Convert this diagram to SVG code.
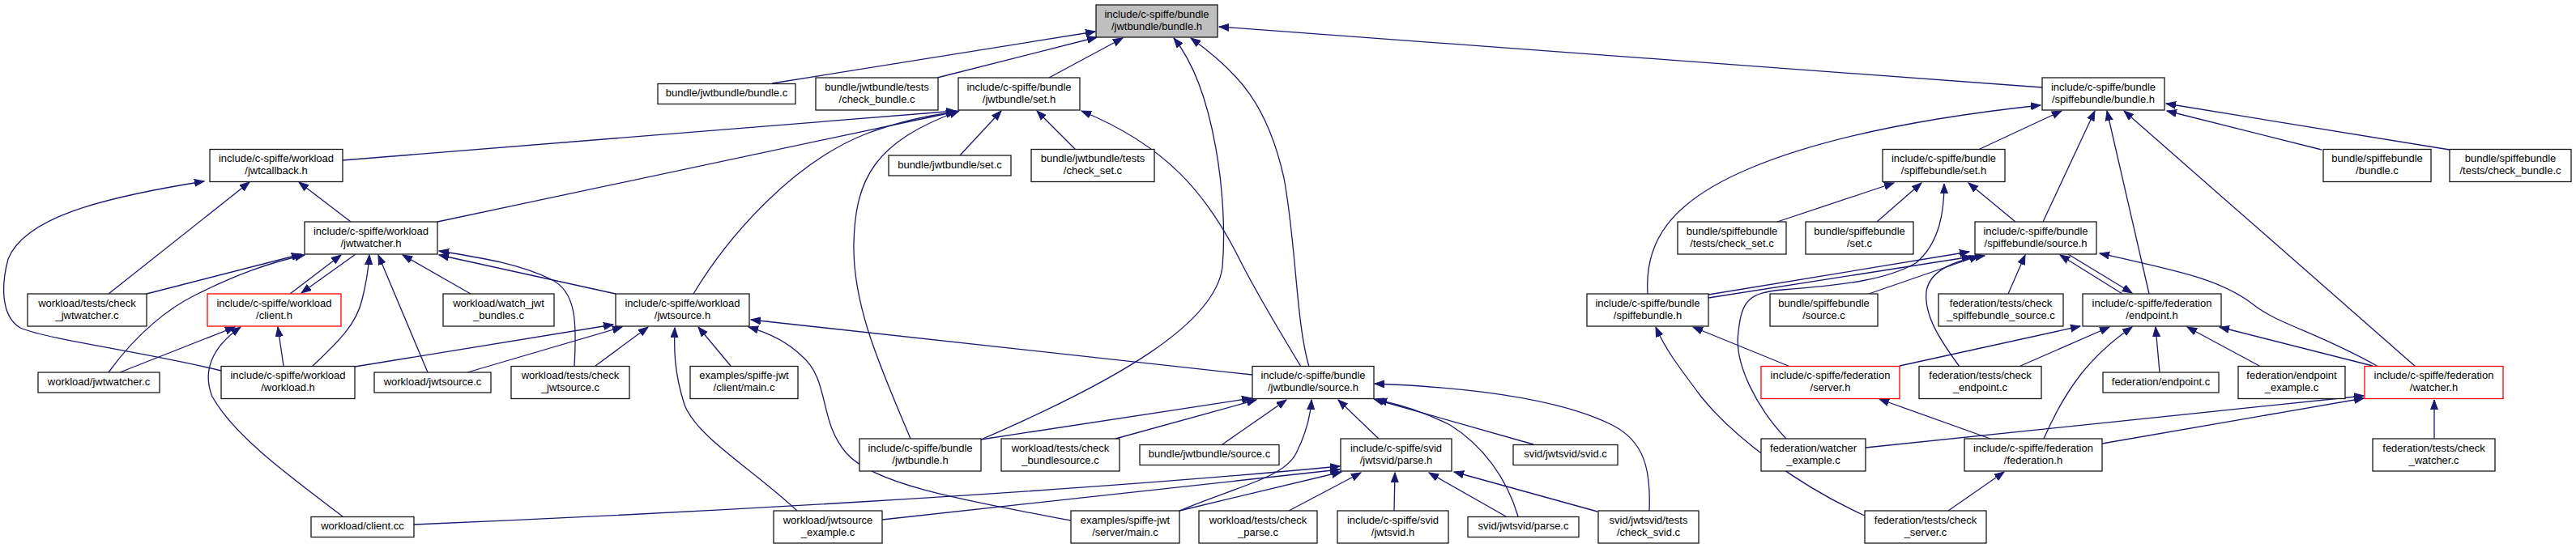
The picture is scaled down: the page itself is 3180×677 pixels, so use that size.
<svg xmlns="http://www.w3.org/2000/svg" width="3180" height="677" viewBox="0 0 3180 677">
<style>
.node rect{fill:#ffffff;stroke:#1a1a1a;stroke-width:1.3}
.root rect{fill:#bfbfbf}
.red rect{stroke:#ff0000}
text{font-family:"Liberation Sans",Arial,Helvetica,sans-serif;font-size:13px;text-anchor:middle;fill:#000}
#edges path{fill:none;stroke:#191970;stroke-width:1.3;marker-end:url(#a)}
</style>
<defs>
<marker id="a" markerWidth="14" markerHeight="11" refX="12" refY="5" orient="auto" markerUnits="userSpaceOnUse"><path d="M0,0.5 L12,5 L0,9.5 z" fill="#191970" stroke="#191970" stroke-width="1"/></marker>
</defs>
<rect width="3180" height="677" fill="#ffffff"/>
<g id="edges">
<path d="M953,103 L1352,39"/>
<path d="M1157,96 L1354,46"/>
<path d="M1295,96 L1386,47"/>
<path d="M1211,543 C1380,470 1500,400 1509,330 C1516,250 1500,110 1449,47"/>
<path d="M1616,453 C1600,400 1600,300 1585,220 C1565,130 1530,90 1470,47"/>
<path d="M2521,108 L1505,33"/>
<path d="M423,198 L1180,137"/>
<path d="M540,274 L1180,138"/>
<path d="M856,363 C900,290 980,200 1070,165 C1110,150 1150,142 1182,138"/>
<path d="M1124,542 C1090,460 1052,380 1054,300 C1056,220 1080,175 1184,137"/>
<path d="M1185,192 L1236,137"/>
<path d="M1328,185 L1280,137"/>
<path d="M1606,453 C1580,410 1550,360 1530,320 C1490,240 1440,180 1335,137"/>
<path d="M2442,185 L2545,137"/>
<path d="M2034,363 C2030,300 2060,250 2160,208 C2250,170 2380,145 2519,130"/>
<path d="M2522,274 L2586,137"/>
<path d="M2653,363 L2601,137"/>
<path d="M2982,453 L2622,137"/>
<path d="M2866,185 L2675,137"/>
<path d="M3024,185 L2674,128"/>
<path d="M2194,274 L2338,226"/>
<path d="M2317,274 L2372,226"/>
<path d="M2488,274 L2430,226"/>
<path d="M2205,542 C2170,505 2140,450 2146,410 C2150,370 2160,362 2200,358 C2280,352 2330,345 2365,325 C2395,300 2400,260 2400,227"/>
<path d="M2109,364 L2431,311"/>
<path d="M2109,368 L2434,317"/>
<path d="M2307,363 L2443,316"/>
<path d="M2419,453 C2395,420 2375,390 2378,360 C2382,335 2410,322 2450,316"/>
<path d="M2479,363 L2500,315"/>
<path d="M2620,363 L2543,315"/>
<path d="M2553,314 L2632,362"/>
<path d="M2936,453 C2860,410 2810,400 2780,375 C2740,345 2690,335 2592,313"/>
<path d="M2345,452 L2568,403"/>
<path d="M2492,453 L2604,404"/>
<path d="M2523,542 C2550,480 2580,440 2632,404"/>
<path d="M2666,460 L2661,404"/>
<path d="M2791,453 L2700,404"/>
<path d="M2929,452 L2740,404"/>
<path d="M3005,542 L3005,494"/>
<path d="M2595,548 L2918,492"/>
<path d="M2303,553 L2918,489"/>
<path d="M2405,631 L2474,583"/>
<path d="M2457,542 L2320,493"/>
<path d="M2302,637 C2220,600 2140,540 2100,490 C2070,450 2055,430 2044,404"/>
<path d="M2210,453 L2090,404"/>
<path d="M1211,543 L1545,492"/>
<path d="M1377,542 L1551,494"/>
<path d="M1509,549 L1588,494"/>
<path d="M1702,542 L1652,494"/>
<path d="M1456,631 C1530,600 1585,590 1600,560 C1615,530 1618,510 1619,494"/>
<path d="M1893,549 L1696,493"/>
<path d="M1874,638 C1860,590 1830,550 1790,525 C1760,510 1730,500 1700,494"/>
<path d="M2036,631 C2038,580 2030,545 1990,525 C1920,490 1800,478 1697,474"/>
<path d="M511,648 C800,636 1300,610 1654,576"/>
<path d="M1089,642 L1654,580"/>
<path d="M1456,631 L1656,583"/>
<path d="M1591,631 L1680,584"/>
<path d="M1721,631 L1722,584"/>
<path d="M1859,638 L1764,584"/>
<path d="M1972,632 L1795,583"/>
<path d="M1546,463 L927,395"/>
<path d="M438,453 L757,401"/>
<path d="M577,460 L768,404"/>
<path d="M735,452 L800,404"/>
<path d="M902,452 L862,404"/>
<path d="M984,631 C930,580 860,540 845,500 C832,460 832,430 833,405"/>
<path d="M1322,643 C1200,620 1080,600 1045,560 C1010,520 1025,470 990,440 C970,420 945,410 924,404"/>
<path d="M181,363 L372,314"/>
<path d="M134,460 C170,410 210,380 240,365 C290,340 330,325 376,315"/>
<path d="M358,363 L421,315"/>
<path d="M439,314 L372,362"/>
<path d="M385,453 C420,420 440,400 447,370 C452,350 455,330 456,315"/>
<path d="M528,460 L467,315"/>
<path d="M581,363 L497,315"/>
<path d="M709,452 C712,400 712,360 680,345 C640,325 590,318 542,310"/>
<path d="M760,363 L542,315"/>
<path d="M433,274 L369,225"/>
<path d="M134,363 L308,225"/>
<path d="M273,458 C180,435 60,420 25,405 C0,390 2,350 10,320 C30,270 120,245 252,224"/>
<path d="M148,460 L290,404"/>
<path d="M350,452 L343,404"/>
<path d="M423,638 C360,590 290,540 262,490 C250,460 260,430 297,404"/>
</g>
<g id="n_root" class="node root"><rect x="1353" y="6" width="150" height="40"/><text x="1428" y="21.5">include/c-spiffe/bundle</text><text x="1428" y="36.5">/jwtbundle/bundle.h</text></g>
<g id="n1" class="node"><rect x="812" y="103.5" width="170" height="25"/><text x="897" y="119">bundle/jwtbundle/bundle.c</text></g>
<g id="n2" class="node"><rect x="1007" y="96" width="151" height="40"/><text x="1082.5" y="111.5">bundle/jwtbundle/tests</text><text x="1082.5" y="126.5">/check_bundle.c</text></g>
<g id="n3" class="node"><rect x="1183" y="96" width="150" height="40"/><text x="1258" y="111.5">include/c-spiffe/bundle</text><text x="1258" y="126.5">/jwtbundle/set.h</text></g>
<g id="n4" class="node"><rect x="2521" y="96" width="151" height="40"/><text x="2596.5" y="111.5">include/c-spiffe/bundle</text><text x="2596.5" y="126.5">/spiffebundle/bundle.h</text></g>
<g id="n5" class="node"><rect x="259" y="184.5" width="164" height="40"/><text x="341" y="200">include/c-spiffe/workload</text><text x="341" y="215">/jwtcallback.h</text></g>
<g id="n6" class="node"><rect x="1097" y="192" width="151" height="25"/><text x="1172.5" y="207.5">bundle/jwtbundle/set.c</text></g>
<g id="n7" class="node"><rect x="1273" y="184.5" width="152" height="40"/><text x="1349" y="200">bundle/jwtbundle/tests</text><text x="1349" y="215">/check_set.c</text></g>
<g id="n8" class="node"><rect x="2324" y="184.5" width="151" height="40"/><text x="2399.5" y="200">include/c-spiffe/bundle</text><text x="2399.5" y="215">/spiffebundle/set.h</text></g>
<g id="n9" class="node"><rect x="2868" y="184.5" width="133" height="40"/><text x="2934.5" y="200">bundle/spiffebundle</text><text x="2934.5" y="215">/bundle.c</text></g>
<g id="n10" class="node"><rect x="3024" y="184.5" width="150" height="40"/><text x="3099" y="200">bundle/spiffebundle</text><text x="3099" y="215">/tests/check_bundle.c</text></g>
<g id="n11" class="node"><rect x="376" y="274" width="164" height="40"/><text x="458" y="289.5">include/c-spiffe/workload</text><text x="458" y="304.5">/jwtwatcher.h</text></g>
<g id="n12" class="node"><rect x="2071" y="274" width="134" height="40"/><text x="2138" y="289.5">bundle/spiffebundle</text><text x="2138" y="304.5">/tests/check_set.c</text></g>
<g id="n13" class="node"><rect x="2229" y="274" width="133" height="40"/><text x="2295.5" y="289.5">bundle/spiffebundle</text><text x="2295.5" y="304.5">/set.c</text></g>
<g id="n14" class="node"><rect x="2438" y="274" width="150" height="40"/><text x="2513" y="289.5">include/c-spiffe/bundle</text><text x="2513" y="304.5">/spiffebundle/source.h</text></g>
<g id="n15" class="node"><rect x="34" y="363" width="147" height="40"/><text x="107.5" y="378.5">workload/tests/check</text><text x="107.5" y="393.5">_jwtwatcher.c</text></g>
<g id="n16" class="node red"><rect x="256" y="363" width="165" height="40"/><text x="338.5" y="378.5">include/c-spiffe/workload</text><text x="338.5" y="393.5">/client.h</text></g>
<g id="n17" class="node"><rect x="547" y="363" width="137" height="40"/><text x="615.5" y="378.5">workload/watch_jwt</text><text x="615.5" y="393.5">_bundles.c</text></g>
<g id="n18" class="node"><rect x="760" y="363" width="165" height="40"/><text x="842.5" y="378.5">include/c-spiffe/workload</text><text x="842.5" y="393.5">/jwtsource.h</text></g>
<g id="n19" class="node"><rect x="1959" y="363" width="150" height="40"/><text x="2034" y="378.5">include/c-spiffe/bundle</text><text x="2034" y="393.5">/spiffebundle.h</text></g>
<g id="n20" class="node"><rect x="2185" y="363" width="133" height="40"/><text x="2251.5" y="378.5">bundle/spiffebundle</text><text x="2251.5" y="393.5">/source.c</text></g>
<g id="n21" class="node"><rect x="2393" y="363" width="154" height="40"/><text x="2470" y="378.5">federation/tests/check</text><text x="2470" y="393.5">_spiffebundle_source.c</text></g>
<g id="n22" class="node"><rect x="2571" y="363" width="171" height="40"/><text x="2656.5" y="378.5">include/c-spiffe/federation</text><text x="2656.5" y="393.5">/endpoint.h</text></g>
<g id="n23" class="node"><rect x="47" y="460" width="150" height="25"/><text x="122" y="475.5">workload/jwtwatcher.c</text></g>
<g id="n24" class="node"><rect x="273" y="452.5" width="165" height="40"/><text x="355.5" y="468">include/c-spiffe/workload</text><text x="355.5" y="483">/workload.h</text></g>
<g id="n25" class="node"><rect x="462" y="460" width="144" height="25"/><text x="534" y="475.5">workload/jwtsource.c</text></g>
<g id="n26" class="node"><rect x="631" y="452.5" width="146" height="40"/><text x="704" y="468">workload/tests/check</text><text x="704" y="483">_jwtsource.c</text></g>
<g id="n27" class="node"><rect x="852" y="452.5" width="133" height="40"/><text x="918.5" y="468">examples/spiffe-jwt</text><text x="918.5" y="483">/client/main.c</text></g>
<g id="n28" class="node"><rect x="1546" y="452.5" width="150" height="40"/><text x="1621" y="468">include/c-spiffe/bundle</text><text x="1621" y="483">/jwtbundle/source.h</text></g>
<g id="n29" class="node red"><rect x="2174" y="452.5" width="171" height="40"/><text x="2259.5" y="468">include/c-spiffe/federation</text><text x="2259.5" y="483">/server.h</text></g>
<g id="n30" class="node"><rect x="2369" y="452.5" width="151" height="40"/><text x="2444.5" y="468">federation/tests/check</text><text x="2444.5" y="483">_endpoint.c</text></g>
<g id="n31" class="node"><rect x="2596" y="460" width="143" height="25"/><text x="2667.5" y="475.5">federation/endpoint.c</text></g>
<g id="n32" class="node"><rect x="2763" y="452.5" width="132" height="40"/><text x="2829" y="468">federation/endpoint</text><text x="2829" y="483">_example.c</text></g>
<g id="n33" class="node red"><rect x="2919" y="452.5" width="171" height="40"/><text x="3004.5" y="468">include/c-spiffe/federation</text><text x="3004.5" y="483">/watcher.h</text></g>
<g id="n34" class="node"><rect x="1061" y="542" width="150" height="40"/><text x="1136" y="557.5">include/c-spiffe/bundle</text><text x="1136" y="572.5">/jwtbundle.h</text></g>
<g id="n35" class="node"><rect x="1236" y="542" width="146" height="40"/><text x="1309" y="557.5">workload/tests/check</text><text x="1309" y="572.5">_bundlesource.c</text></g>
<g id="n36" class="node"><rect x="1407" y="549.5" width="172" height="25"/><text x="1493" y="565">bundle/jwtbundle/source.c</text></g>
<g id="n37" class="node"><rect x="1655" y="542" width="137" height="40"/><text x="1723.5" y="557.5">include/c-spiffe/svid</text><text x="1723.5" y="572.5">/jwtsvid/parse.h</text></g>
<g id="n38" class="node"><rect x="1868" y="549.5" width="129" height="25"/><text x="1932.5" y="565">svid/jwtsvid/svid.c</text></g>
<g id="n39" class="node"><rect x="2174" y="542" width="129" height="40"/><text x="2238.5" y="557.5">federation/watcher</text><text x="2238.5" y="572.5">_example.c</text></g>
<g id="n40" class="node"><rect x="2425" y="542" width="170" height="40"/><text x="2510" y="557.5">include/c-spiffe/federation</text><text x="2510" y="572.5">/federation.h</text></g>
<g id="n41" class="node"><rect x="2929" y="542" width="151" height="40"/><text x="3004.5" y="557.5">federation/tests/check</text><text x="3004.5" y="572.5">_watcher.c</text></g>
<g id="n42" class="node"><rect x="384" y="638.5" width="127" height="25"/><text x="447.5" y="654">workload/client.cc</text></g>
<g id="n43" class="node"><rect x="955" y="631" width="134" height="40"/><text x="1022" y="646.5">workload/jwtsource</text><text x="1022" y="661.5">_example.c</text></g>
<g id="n44" class="node"><rect x="1322" y="631" width="134" height="40"/><text x="1389" y="646.5">examples/spiffe-jwt</text><text x="1389" y="661.5">/server/main.c</text></g>
<g id="n45" class="node"><rect x="1480" y="631" width="146" height="40"/><text x="1553" y="646.5">workload/tests/check</text><text x="1553" y="661.5">_parse.c</text></g>
<g id="n46" class="node"><rect x="1651" y="631" width="137" height="40"/><text x="1719.5" y="646.5">include/c-spiffe/svid</text><text x="1719.5" y="661.5">/jwtsvid.h</text></g>
<g id="n47" class="node"><rect x="1812" y="638.5" width="137" height="25"/><text x="1880.5" y="654">svid/jwtsvid/parse.c</text></g>
<g id="n48" class="node"><rect x="1973" y="631" width="124" height="40"/><text x="2035" y="646.5">svid/jwtsvid/tests</text><text x="2035" y="661.5">/check_svid.c</text></g>
<g id="n49" class="node"><rect x="2302" y="631" width="150" height="40"/><text x="2377" y="646.5">federation/tests/check</text><text x="2377" y="661.5">_server.c</text></g>
</svg>
